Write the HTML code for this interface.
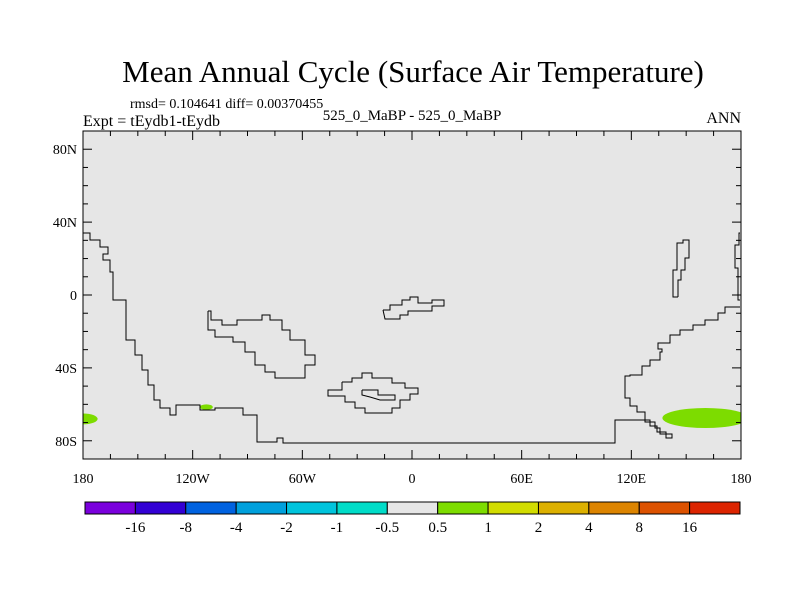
<!DOCTYPE html>
<html><head><meta charset="utf-8"><style>
body{margin:0;background:#fff;width:800px;height:600px;overflow:hidden;font-family:"Liberation Serif",serif}
</style></head><body>
<svg width="800" height="600" xmlns="http://www.w3.org/2000/svg" font-family="Liberation Serif, serif">
<defs><clipPath id="mapclip"><rect x="83" y="131" width="658" height="328"/></clipPath></defs>
<text x="413" y="82" font-size="31" text-anchor="middle">Mean Annual Cycle (Surface Air Temperature)</text>
<text x="130" y="108" font-size="14">rmsd= 0.104641 diff= 0.00370455</text>
<text x="83" y="126" font-size="16">Expt = tEydb1-tEydb</text>
<text x="412" y="120" font-size="15" text-anchor="middle">525_0_MaBP - 525_0_MaBP</text>
<text x="741" y="123" font-size="16" text-anchor="end">ANN</text>
<rect x="83" y="131" width="658" height="328" fill="#e6e6e6"/>
<g id="fills" clip-path="url(#mapclip)"></g>
<g fill="none" stroke="#000" stroke-width="1">
<polyline points="83,233 90,233 90,240 100,240 100,247 108,247 108,254 103,254 103,260 110,260 110,272 113,272 113,300 126,300 126,340 135,340 135,355 142,355 142,370 148,370 148,385 154,385 154,400 160,400 160,408 170,408 170,415 176,415 176,405 200,405 200,410 215,410 215,408 243,408 243,415 257,415 257,442 277,442 277,438 283,438 283,443 615,443 615,420 650,420 650,426 657,426 657,432 666,432 666,438 672,438 672,434 660,434 660,428 655,428 655,422 645,422 645,412 637,412 637,406 630,406 630,398 625,398 625,376 630,376 630,375 642,375 642,366 650,366 650,360 660,360 660,352 662,352 662,349 658,349 658,343 670,343 670,335 680,335 680,330 693,330 693,325 705,325 705,320 718,320 718,313 725,313 725,307 740,307"/>
<polyline points="740,233 739,233 739,245 735,245 735,268 738,268 738,300 740,300"/>
<polyline points="678,297 678,280 681,280 681,270 685,270 685,258 689,258 689,240 683,240 683,243 677,243 677,270 673,270 673,297 678,297"/>
<polyline points="208,311 211,311 211,320 222,320 222,325 237,325 237,320 262,320 262,315 270,315 270,320 282,320 282,330 290,330 290,340 305,340 305,355 315,355 315,365 305,365 305,378 275,378 275,372 265,372 265,365 255,365 255,352 245,352 245,342 233,342 233,337 215,337 215,330 208,330 208,311"/>
<polyline points="383,310 390,310 390,305 402,305 402,300 410,300 410,297 418,297 418,303 432,303 432,300 444,300 444,306 432,306 432,311 408,311 408,315 400,315 400,319 385,319 383,310"/>
<polyline points="342,382 352,382 352,378 362,378 362,373 372,373 372,378 392,378 392,383 405,383 405,388 418,388 418,394 410,394 410,400 400,400 400,408 392,408 392,413 365,413 365,408 355,408 355,402 345,402 345,396 328,396 328,390 342,390 342,382"/>
<polyline points="362,390 378,390 378,395 395,395 395,400 380,400 370,397 362,395 362,390"/>
</g>
<rect x="83" y="131" width="658" height="328" fill="none" stroke="#000"/>
<g id="axes" font-size="14"></g>
<g id="cbar"></g>
<script>
const latTicks=[80,40,0,-40,-80];
const latLabels=['80N','40N','0','40S','80S'];
const lonTicks=[-180,-120,-60,0,60,120,180];
const lonLabels=['180','120W','60W','0','60E','120E','180'];
const cbarColors=['#7a00dc','#3300d4','#0062e0','#00a0dc','#00c4dc','#00dcc8','#e6e6e6','#7ddc00','#d2dc00','#dcb000','#dc8400','#dc5200','#dc2400'];
const cbarLabels=['-16','-8','-4','-2','-1','-0.5','0.5','1','2','4','8','16'];
// anomaly patches: [lonMin, lonMax, latMin, latMax]
const blobLon=[[-180,-172],[-116,-109],[137,184]];
const blobLat=[[-71,-65],[-63,-60],[-73,-62]];
const X0=83,X1=741,Y0=131,Y1=459;
const xs=lon=>X0+(lon+180)/360*(X1-X0);
const ys=lat=>Y0+(90-lat)/180*(Y1-Y0);
const NS='http://www.w3.org/2000/svg';
function mk(t,a,p){const e=document.createElementNS(NS,t);for(const k in a)e.setAttribute(k,a[k]);p.appendChild(e);return e;}
const fills=document.getElementById('fills');
blobLon.forEach((b,i)=>{
 const x0=xs(b[0]),x1=xs(b[1]),y0=ys(blobLat[i][1]),y1=ys(blobLat[i][0]);
 const e=mk('ellipse',{cx:(x0+x1)/2+(i==0?-((x1-x0)/2):0),cy:(y0+y1)/2,rx:i==0?(x1-x0):(x1-x0)/2,ry:(y1-y0)/2,fill:'#7ddc00'},fills);
 
 
});
const ax=document.getElementById('axes');
for(let l=-90;l<=90;l+=10){const y=ys(l);const maj=latTicks.includes(l);
 mk('line',{x1:X0,x2:X0+(maj?9:5),y1:y,y2:y,stroke:'#000'},ax);mk('line',{x1:X1,x2:X1-(maj?9:5),y1:y,y2:y,stroke:'#000'},ax);}
for(let l=-180;l<=180;l+=15){const x=xs(l);const maj=l%60==0;
 mk('line',{x1:x,x2:x,y1:Y1,y2:Y1-(maj?9:5),stroke:'#000'},ax);mk('line',{x1:x,x2:x,y1:Y0,y2:Y0+(maj?9:5),stroke:'#000'},ax);}
latTicks.forEach((l,i)=>{const t=mk('text',{x:77,y:ys(l)+5,'text-anchor':'end'},ax);t.textContent=latLabels[i];
 
 });
lonTicks.forEach((l,i)=>{const t=mk('text',{x:xs(l),y:483,'text-anchor':'middle'},ax);t.textContent=lonLabels[i];
 
 });
const cb=document.getElementById('cbar');const cx0=85,cx1=740,cw=(cx1-cx0)/cbarColors.length;
cbarColors.forEach((c,i)=>{const r=mk('rect',{x:cx0+i*cw,y:502,width:cw,height:12,fill:c,stroke:'#000','stroke-width':1},cb);
 
 });
cbarLabels.forEach((s,i)=>{const t=mk('text',{x:cx0+(i+1)*cw,y:532,'text-anchor':'middle','font-size':15},cb);t.textContent=s;
 
 });
</script>
</svg>
</body></html>
